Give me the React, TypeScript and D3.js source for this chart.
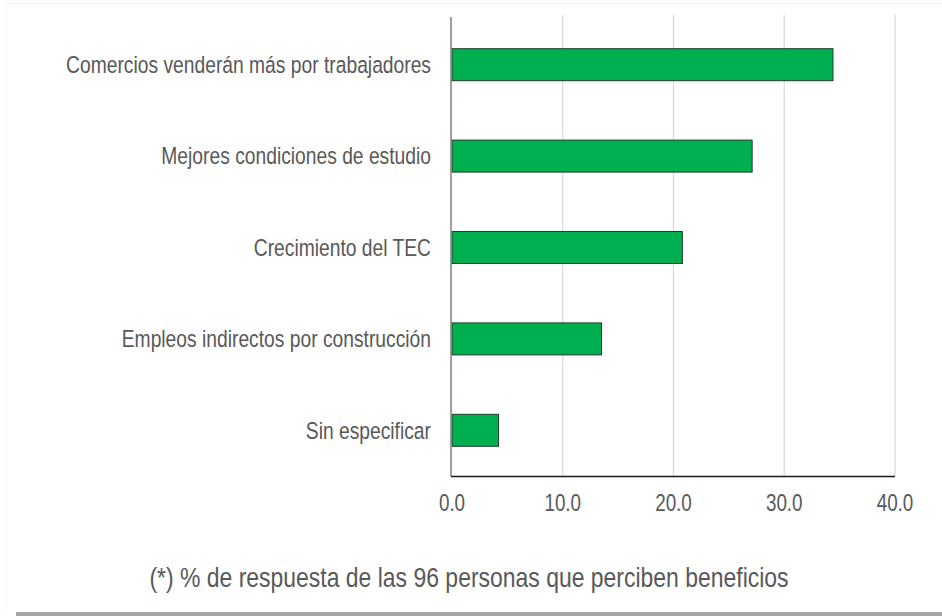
import React from "react";
import * as d3 from "d3";

const categories = [
  "Comercios venderán más por trabajadores",
  "Mejores condiciones de estudio",
  "Crecimiento del TEC",
  "Empleos indirectos por construcción",
  "Sin especificar",
];
const values = [34.4, 27.1, 20.8, 13.5, 4.2];
const xTicks = [0, 10, 20, 30, 40];
const footnote = "(*) % de respuesta de las 96 personas que perciben beneficios";

const W = 942;
const H = 616;
const SX = 0.82;

export default function App() {
  const x = d3.scaleLinear().domain([0, 40]).range([452, 895]);
  const y = d3
    .scaleBand<string>()
    .domain(categories)
    .range([19, 476])
    .paddingInner(0.65)
    .paddingOuter(0.325);
  const font = "'Liberation Sans', Arial, sans-serif";
  return (
    <svg
      width={W}
      height={H}
      style={{ position: "absolute", left: 0, top: 0, background: "#fff" }}
    >
      <rect x={0} y={0} width={W} height={H} fill="#ffffff" />
      {/* faint frame */}
      <line x1={4} x2={W} y1={3.5} y2={3.5} stroke="#f2f2f2" strokeWidth={1} />
      <line x1={6.5} x2={6.5} y1={4} y2={612} stroke="#f4f4f4" strokeWidth={1} />
      <rect x={16} y={612} width={W - 16} height={4} fill="#a6a6a6" />
      {/* gridlines */}
      {xTicks.slice(1).map((t) => (
        <line
          key={t}
          x1={x(t)}
          x2={x(t)}
          y1={15}
          y2={476}
          stroke="#d9d9d9"
          strokeWidth={1.2}
        />
      ))}
      {/* bars */}
      {categories.map((c, i) => (
        <rect
          key={c}
          x={x(0)}
          y={y(c)!}
          width={x(values[i]) - x(0)}
          height={y.bandwidth()}
          fill="#00b050"
          stroke="#1e3d2a"
          strokeWidth={1}
        />
      ))}
      {/* axes */}
      <line x1={451} x2={451} y1={17} y2={476} stroke="#7f7f7f" strokeWidth={1.5} />
      <line x1={451} x2={x(40)} y1={476.5} y2={476.5} stroke="#1a1a1a" strokeWidth={1.3} />
      {/* category labels */}
      {categories.map((c) => (
        <text
          key={c}
          transform={`translate(431,${y(c)! + y.bandwidth() / 2}) scale(${SX},1)`}
          dy="0.35em"
          textAnchor="end"
          fontFamily={font}
          fontSize={23.5}
          fill="#595959"
        >
          {c}
        </text>
      ))}
      {/* tick labels */}
      {xTicks.map((t) => (
        <text
          key={t}
          transform={`translate(${x(t)},503) scale(${SX},1)`}
          dy="0.35em"
          textAnchor="middle"
          fontFamily={font}
          fontSize={23}
          fill="#595959"
        >
          {t.toFixed(1)}
        </text>
      ))}
      <text
        transform={`translate(469,577) scale(${SX},1)`}
        dy="0.35em"
        textAnchor="middle"
        fontFamily={font}
        fontSize={28}
        fill="#595959"
      >
        {footnote}
      </text>
    </svg>
  );
}
